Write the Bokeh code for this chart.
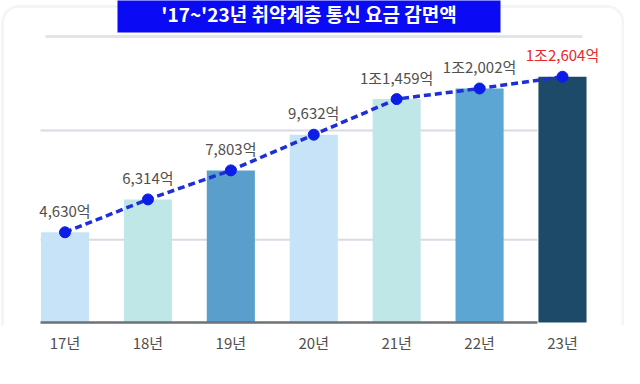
from bokeh.plotting import figure
from bokeh.models import Range1d, BoxAnnotation, FixedTicker
from bokeh.core.properties import value
from bokeh.embed import file_html
from bokeh.resources import INLINE

# ---- data ----
years = ["17년", "18년", "19년", "20년", "21년", "22년", "23년"]
amounts = [4630, 6314, 7803, 9632, 11459, 12002, 12604]  # 억원
bar_colors = ["#c6e3f7", "#bfe7e7", "#5a9fcb", "#c6e3f7", "#bfe7e7", "#5ba6d2", "#1d4a68"]
title_text = "'17~'23년 취약계층 통신 요금 감면액"
grid_values = [4250, 9850]


def fmt(v):
    if v >= 10000:
        return f"{v // 10000}조{v % 10000:,}억"
    return f"{v:,}억"


xs = list(range(len(years)))
labels = [fmt(v) for v in amounts]
label_colors = ["#505050"] * (len(amounts) - 1) + ["#e8292b"]

FONT = value("Noto Sans CJK KR")

p = figure(
    width=624, height=368,
    x_range=Range1d(-0.778, 6.748),
    y_range=Range1d(-150, 16513),
    output_backend="svg", toolbar_location=None,
    min_border_left=0, min_border_right=0, min_border_top=0, min_border_bottom=43,
)
p.outline_line_color = None
p.background_fill_color = "white"
p.border_fill_color = "white"
p.xgrid.visible = False
p.ygrid.visible = False
p.yaxis.visible = False

# page-pixel coordinate system for decorations (page x 8..632, page y 333..8)
p.extra_x_ranges = {"px": Range1d(8, 632)}
p.extra_y_ranges = {"py": Range1d(333, 8)}

# panel outline
panel = BoxAnnotation(left=10, right=630.5, top=14, bottom=420,
                      x_range_name="px", y_range_name="py",
                      fill_color=None, fill_alpha=0,
                      line_color="#dcdfe5", line_width=3, border_radius=16,
                      level="underlay")
p.add_layout(panel)

# inner header line
p.segment(x0=[53], x1=[590], y0=[44], y1=[44], x_range_name="px", y_range_name="py",
          line_color="#e2e4ea", line_width=3)

# title box
p.quad(left=[125], right=[508], top=[0], bottom=[40], x_range_name="px", y_range_name="py",
       fill_color="#0a0af5", line_color=None)
p.text(x=[316.5], y=[21], text=[title_text], x_range_name="px", y_range_name="py",
       text_font=FONT, text_font_style="bold", text_font_size="19px",
       text_color="white", text_align="center", text_baseline="middle")

# gridlines (between bars)
p.segment(x0=[48] * len(grid_values), x1=[545] * len(grid_values),
          y0=grid_values, y1=grid_values, x_range_name="px",
          line_color="#d8dae4", line_width=2, level="underlay")

# bars
p.vbar(x=xs, top=amounts, bottom=0, width=0.58, fill_color=bar_colors, line_color=None)

# baseline
p.segment(x0=[48], x1=[545], y0=[0], y1=[0], x_range_name="px",
          line_color="#6d7277", line_width=2.5)

# dashed line with markers
p.line(x=xs, y=amounts, line_color="#1e2fd8", line_width=3.5, line_dash="7 4")
p.scatter(x=xs, y=amounts, size=11, marker="circle", fill_color="#0b1de6", line_color="#0b1de6")

# value labels
p.text(x=xs, y=amounts, text=labels, y_offset=-22, text_align="center",
       text_baseline="middle", text_font=FONT, text_font_size="15px", text_color=label_colors)

# x axis
xa = p.xaxis[0]
xa.ticker = FixedTicker(ticks=xs)
xa.major_label_overrides = {i: y for i, y in zip(xs, years)}
xa.axis_line_color = None
xa.major_tick_line_color = None
xa.minor_tick_line_color = None
xa.major_tick_out = 0
xa.major_tick_in = 0
xa.major_label_standoff = 6
xa.major_label_text_font = "Noto Sans CJK KR"
xa.major_label_text_font_size = "15px"
xa.major_label_text_color = "#505050"

open("out.html", "w").write(file_html(p, INLINE))
